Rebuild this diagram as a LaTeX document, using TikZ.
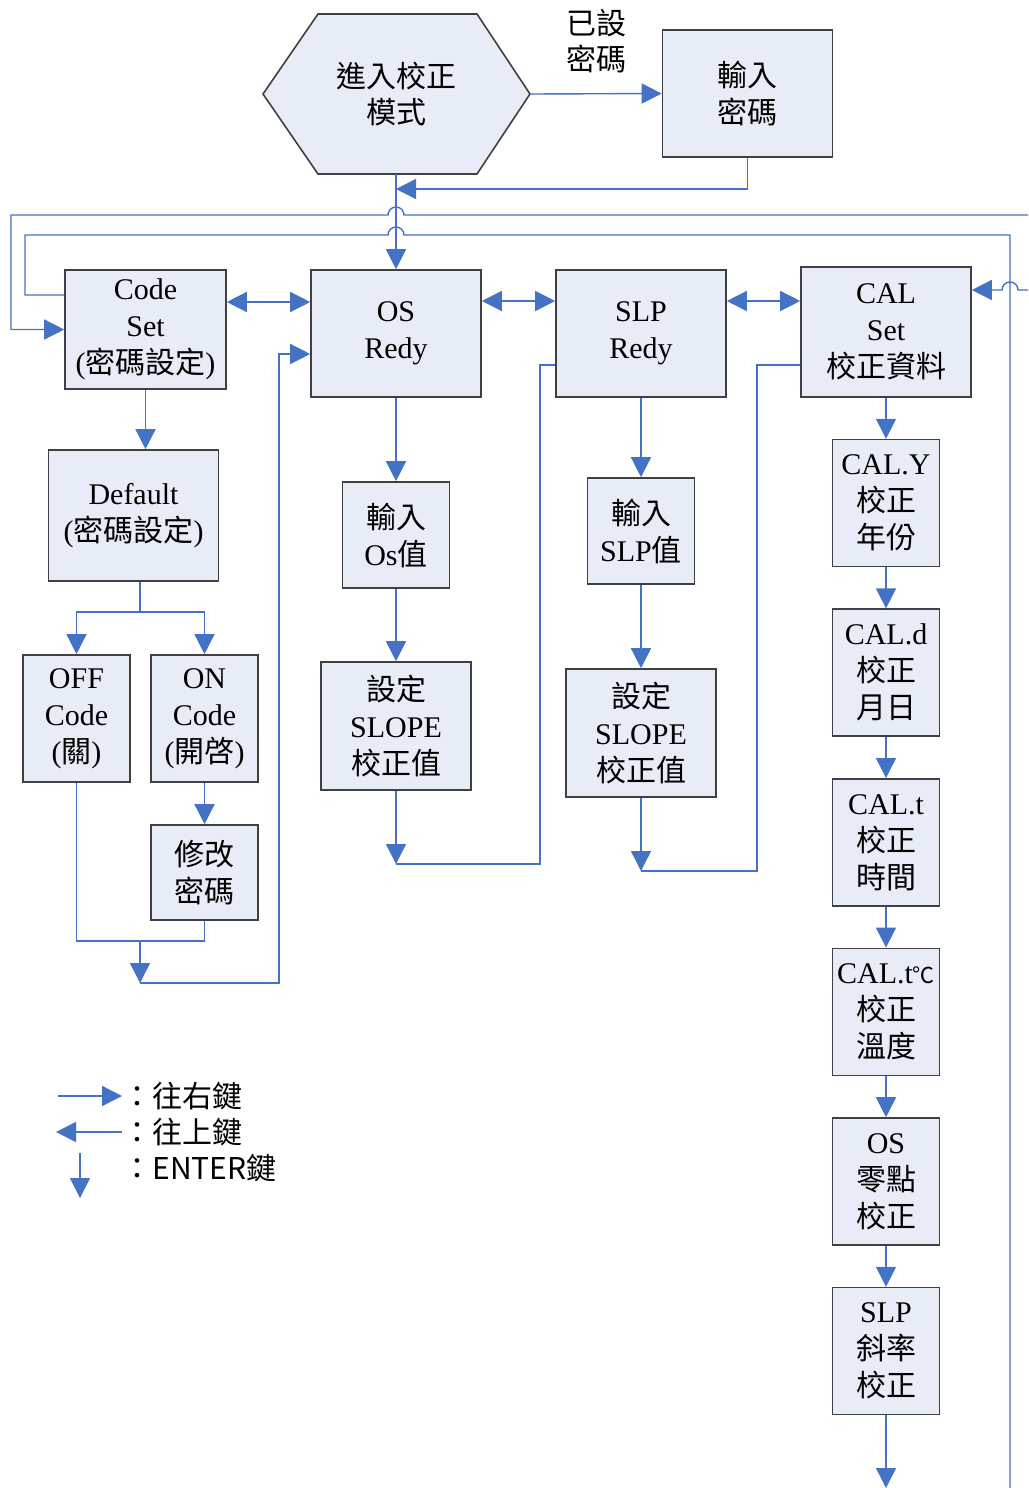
\documentclass[tikz,border=0pt]{standalone}
\usepackage{fontspec}
\setmainfont{Liberation Serif}
\newfontfamily\zhfont{Noto Sans CJK TC}
\newcommand{\zh}[1]{{\zhfont #1}}
\usepackage{xcolor}
\usepackage{tikz}
\usetikzlibrary{arrows.meta,positioning}
\definecolor{boxfill}{RGB}{231,236,247}
\definecolor{flow}{RGB}{68,114,196}

\begin{document}
\begin{tikzpicture}[
  x=0.5pt, y=-0.5pt,
  node distance=20.5pt,
  box/.style={draw=black!75,fill=boxfill,line width=0.8pt,align=center,inner sep=1pt,
    font=\fontsize{15pt}{18.5pt}\selectfont},
  bigbox/.style={box,minimum width=85pt,minimum height=63.5pt},
  smallbox/.style={box,minimum width=53.5pt,minimum height=63.5pt},
  inbox/.style={box,minimum width=53.5pt,minimum height=53pt},
  setbox/.style={box,minimum width=75pt,minimum height=64pt},
  txt/.style={align=center,inner sep=0pt,font=\fontsize{15pt}{18pt}\selectfont},
  note/.style={inner sep=0pt,font=\zhfont\fontsize{15pt}{18pt}\selectfont},
  line/.style={draw=flow,line width=0.7pt},
  arrow/.style={line,-{Triangle[length=10pt,width=10pt]}},
  both/.style={line,{Triangle[length=10pt,width=10pt]}-{Triangle[length=10pt,width=10pt]}}
]
\useasboundingbox (0,0) rectangle (1028,1488);

% entry hexagon
\filldraw[draw=black!75,fill=boxfill,line width=0.8pt]
  (263,94) -- (318,14) -- (477,14) -- (530,94) -- (477,174) -- (318,174) -- cycle;
\node[txt] (enter) at (396,94) {\zh{進入校正}\\\zh{模式}};
\coordinate (enterE) at (530,94);
\coordinate (enterS) at (396,174);

\node[bigbox] (pw) at (747.5,93.5) {\zh{輸入}\\\zh{密碼}};
\node[txt] (pwlbl) at (596,41) {\zh{已設}\\\zh{密碼}};

% main row
\node[box,minimum width=80.5pt,minimum height=59.5pt] (code) at (145.5,329.5) {Code\\Set\\(\zh{密碼設定})};
\node[bigbox] (os) at (396,333.5) {OS\\Redy};
\node[bigbox] (slp) at (641,333.5) {SLP\\Redy};
\node[bigbox,minimum height=65pt] (cal) at (886,332) {CAL\\Set\\\zh{校正資料}};

% code set branch
\node[bigbox,minimum height=65.5pt] (default) at (133.5,515.5) {Default\\(\zh{密碼設定})};
\node[smallbox] (off) at (76.5,718.5) {OFF\\Code\\(\zh{關})};
\node[smallbox] (on) at (204.5,718.5) {ON\\Code\\(\zh{開啓})};
\node[box,minimum width=53.5pt,minimum height=47.5pt] (modify) at (204.5,872.5) {\zh{修改}\\\zh{密碼}};

% os branch
\node[inbox] (inos) at (396,535) {\zh{輸入}\\Os\zh{值}};
\node[setbox] (setos) at (396,726) {\zh{設定}\\SLOPE\\\zh{校正值}};

% slp branch
\node[inbox] (inslp) at (641,531) {\zh{輸入}\\SLP\zh{值}};
\node[setbox] (setslp) at (641,733) {\zh{設定}\\SLOPE\\\zh{校正值}};

% cal branch
\node[smallbox,below=of cal] (caly) {CAL.Y\\\zh{校正}\\\zh{年份}};
\node[smallbox,below=of caly] (cald) {CAL.d\\\zh{校正}\\\zh{月日}};
\node[smallbox,below=of cald] (calt) {CAL.t\\\zh{校正}\\\zh{時間}};
\node[smallbox,below=of calt] (caltc) {CAL.t{\zhfont\fontsize{11pt}{11pt}\selectfont ℃}\\\zh{校正}\\\zh{溫度}};
\node[smallbox,below=of caltc] (zero) {OS\\\zh{零點}\\\zh{校正}};
\node[smallbox,below=of zero] (slope) {SLP\\\zh{斜率}\\\zh{校正}};

% connectors at the top
\draw[arrow] (enterE) -- (pw.west);
\draw[arrow] (pw.south) |- (enterS |- 0,189);
\draw[arrow] (enterS) -- (os.north);
\coordinate (outA) at (1028,215);
\draw[arrow] (outA) -- (404,215) arc[start angle=0,end angle=180,radius=4pt] -- (11,215) |- (code.west);
\draw[line] (code.west |- 0,295) -| (25,235) -- (388,235)
  arc[start angle=180,end angle=0,radius=4pt] -- (1010,235) -- (1010,1488);
\coordinate (outB) at (1028,290);
\draw[arrow] (outB) -- (1018,290) arc[start angle=0,end angle=180,radius=4pt] -- (cal.east |- 0,290);

\draw[both] (code.east |- 0,302) -- (os.west |- 0,302);
\draw[both] (os.east |- 0,301) -- (slp.west |- 0,301);
\draw[both] (slp.east |- 0,301) -- (cal.west |- 0,301);

% code set branch
\coordinate (split) at (140,612);
\coordinate (mergeC) at (140,983);
\draw[arrow] (code.south) -- (code.south |- default.north);
\draw[line] (default.south -| split) -- (split);
\draw[arrow] (split) -| (off.north);
\draw[arrow] (split) -| (on.north);
\draw[arrow] (on) -- (modify);
\draw[line] (off.south) |- (modify.south |- 0,941) -- (modify.south);
\draw[arrow] (mergeC |- 0,941) -- (mergeC);
\draw[arrow] (mergeC) -| (279,354) -- (os.west |- 0,354);

% os branch
\coordinate (joinO) at (396,864);
\draw[arrow] (os) -- (inos);
\draw[arrow] (inos) -- (setos);
\draw[arrow] (setos.south) -- (joinO);
\draw[line] (joinO) -| (540,365) -- (slp.west |- 0,365);

% slp branch
\coordinate (joinS) at (641,871);
\draw[arrow] (slp) -- (inslp);
\draw[arrow] (inslp) -- (setslp);
\draw[arrow] (setslp.south) -- (joinS);
\draw[line] (joinS) -| (757,365) -- (cal.west |- 0,365);

% cal branch
\draw[arrow] (cal) -- (caly);
\draw[arrow] (caly) -- (cald);
\draw[arrow] (cald) -- (calt);
\draw[arrow] (calt) -- (caltc);
\draw[arrow] (caltc) -- (zero);
\draw[arrow] (zero) -- (slope);
\draw[arrow] (slope.south) -- (slope.south |- 0,1488);

% legend
\node[note,anchor=west] (lgR) at (122,1096) {：往右鍵};
\node[note,anchor=west] (lgU) at (122,1132) {：往上鍵};
\node[note,anchor=west] (lgE) at (122,1168) {：ENTER鍵};
\coordinate (lgR0) at (58,1096);
\coordinate (lgU0) at (56,1132);
\coordinate (lgE0) at (80,1153);
\coordinate (lgE1) at (80,1198);
\draw[arrow] (lgR0) -- (lgR.west);
\draw[arrow] (lgU.west) -- (lgU0);
\draw[arrow] (lgE0) -- (lgE1);
\end{tikzpicture}
\end{document}
